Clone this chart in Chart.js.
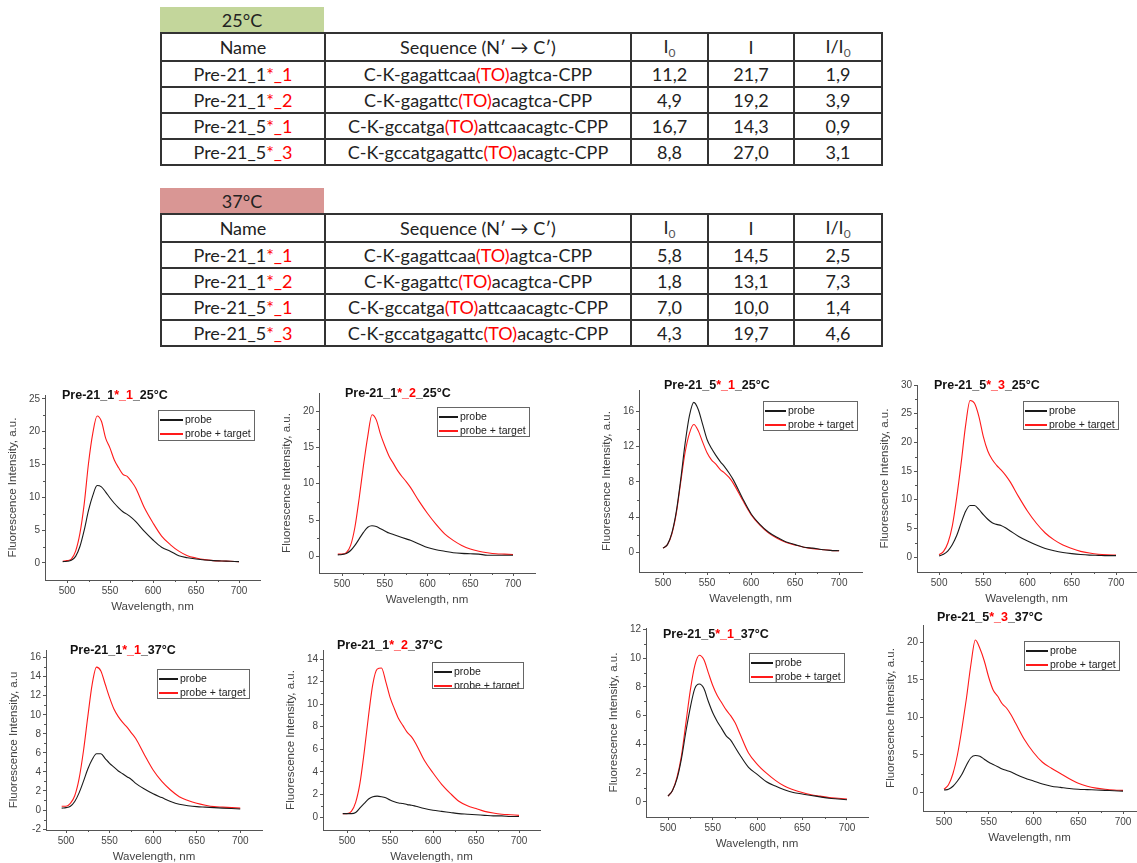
<!DOCTYPE html>
<html>
<head>
<meta charset="utf-8">
<script src="https://cdn.jsdelivr.net/npm/chart.js@4.4.0/dist/chart.umd.min.js"></script>
<style>
html, body { margin: 0; padding: 0; background: #fff; overflow: hidden; }
body { width: 1137px; height: 863px; position: relative; font-family: Lato, "Open Sans", sans-serif; color: #222; }
.tlabel { position: absolute; left: 160px; width: 164px; height: 25px; line-height: 27px; text-align: center; font-size: 18px; }
table.res { position: absolute; left: 160px; width: 721px; border-collapse: collapse; table-layout: fixed; font-size: 18px; }
table.res td { border: 2px solid #333; text-align: center; padding: 0; white-space: nowrap; }
table.res tr.head td { height: 26px; }
table.res tr td { height: 24px; }
.red { color: #f00; }
.sub { font-size: 12px; vertical-align: -4px; color: #555; }
.panel { position: absolute; }
.ttl { position: absolute; font: bold 12.5px "Liberation Sans", Arial, sans-serif; color: #111; white-space: nowrap; line-height: 14px; margin-top: -7px; }
.lg { position: absolute; border: 1px solid #666; box-sizing: border-box; font: 10.5px "Liberation Sans", Arial, sans-serif; color: #222; padding-top: 1px; background: #fff; overflow: hidden; }
.lg div { height: 14px; line-height: 14px; white-space: nowrap; }
.lg .ln { display: inline-block; height: 2px; vertical-align: middle; margin: 0 2px 0 1px; }
</style>
</head>
<body>
<div class="tlabel" style="top:7px;background:#c3d69b;">25°C</div>
<table class="res" id="tab25" style="top:32px;"></table>
<div class="tlabel" style="top:188px;background:#d99694;">37°C</div>
<table class="res" id="tab37" style="top:213px;"></table>
<div id="panels"></div>

<script>
// ----------------------------
// Table data
// ----------------------------
var rowBase = ['Pre-21_1', 'Pre-21_1', 'Pre-21_5', 'Pre-21_5'];
var rowMark = ['*_1', '*_2', '*_1', '*_3'];
var seqBefore = ['C-K-gagattcaa', 'C-K-gagattc', 'C-K-gccatga', 'C-K-gccatgagattc'];
var seqAfter = ['agtca-CPP', 'acagtca-CPP', 'attcaacagtc-CPP', 'acagtc-CPP'];

var i0_25 = ['11,2', '4,9', '16,7', '8,8'];
var i_25 = ['21,7', '19,2', '14,3', '27,0'];
var ratio_25 = ['1,9', '3,9', '0,9', '3,1'];

var i0_37 = ['5,8', '1,8', '7,0', '4,3'];
var i_37 = ['14,5', '13,1', '10,0', '19,7'];
var ratio_37 = ['2,5', '7,3', '1,4', '4,6'];

// ----------------------------
// Spectra data (wavelength, nm / intensity, a.u.)
// ----------------------------
var WL_495 = [495, 500, 505, 510, 515, 520, 525, 530, 535, 540, 545, 550, 555, 560, 565, 570, 575, 580,
    590, 600, 610, 620, 630, 640, 650, 660, 670, 680, 690, 700];
var WL_500 = [500, 505, 510, 515, 520, 525, 530, 535, 540, 545, 550, 555, 560, 565, 570, 575, 580,
    590, 600, 610, 620, 630, 640, 650, 660, 670, 680, 690, 700];

var probe_1_1_25 = [0.2, 0.25, 0.4, 1.0, 2.5, 5.0, 8.0, 10.3, 11.8, 11.6, 10.8, 9.9, 9.1, 8.4, 7.8, 7.4, 6.9, 6.3,
    4.8, 3.5, 2.4, 1.8, 1.1, 0.8, 0.6, 0.45, 0.35, 0.3, 0.25, 0.2];
var target_1_1_25 = [0.25, 0.35, 0.6, 1.8, 4.5, 9.0, 15.2, 19.8, 22.4, 21.6, 19.0, 17.5, 15.7, 14.5, 13.5, 13.2, 12.4, 11.4,
    8.4, 6.1, 4.1, 2.8, 1.8, 1.1, 0.75, 0.5, 0.35, 0.3, 0.25, 0.2];

var probe_1_2_25 = [0.2, 0.25, 0.4, 0.8, 1.5, 2.4, 3.3, 4.0, 4.2, 4.1, 3.8, 3.5, 3.2, 3.0, 2.8, 2.6, 2.4, 2.2,
    1.7, 1.2, 0.9, 0.7, 0.5, 0.4, 0.35, 0.3, 0.15, 0.15, 0.15, 0.15];
var target_1_2_25 = [0.3, 0.3, 0.5, 1.5, 4.0, 8.0, 12.5, 16.5, 19.5, 18.8, 16.8, 15.2, 13.8, 12.8, 11.8, 11.0, 10.3, 9.5,
    7.6, 5.9, 4.4, 3.1, 2.2, 1.5, 1.0, 0.7, 0.5, 0.35, 0.3, 0.25];

var probe_5_1_25 = [0.5, 0.9, 2.2, 4.6, 8.2, 12.3, 15.5, 17.0, 16.2, 14.5, 12.8, 11.8, 11.0, 10.3, 9.7, 9.0, 8.2,
    6.2, 4.4, 3.2, 2.3, 1.7, 1.2, 0.9, 0.6, 0.5, 0.35, 0.25, 0.2];
var target_5_1_25 = [0.5, 0.9, 2.1, 4.4, 7.9, 11.3, 13.5, 14.5, 13.8, 12.5, 11.3, 10.5, 10.0, 9.4, 9.0, 8.5, 7.8,
    6.0, 4.3, 3.1, 2.2, 1.6, 1.15, 0.85, 0.6, 0.45, 0.35, 0.25, 0.2];

var probe_5_3_25 = [0.2, 0.5, 1.1, 2.2, 3.8, 6.0, 8.0, 9.0, 9.0, 8.3, 7.4, 6.6, 6.0, 5.7, 5.5, 5.1, 4.6,
    3.6, 2.8, 2.1, 1.5, 1.1, 0.8, 0.6, 0.45, 0.35, 0.3, 0.25, 0.25];
var target_5_3_25 = [0.4, 1.0, 2.5, 5.5, 10.5, 16.5, 23.0, 27.3, 26.8, 24.5, 21.0, 18.5, 17.0, 16.0, 15.2, 14.3, 13.2,
    10.5, 8.0, 5.9, 4.2, 3.0, 2.1, 1.5, 1.0, 0.7, 0.5, 0.4, 0.35];

var probe_1_1_37 = [0.2, 0.25, 0.4, 0.9, 1.8, 3.0, 4.3, 5.3, 5.9, 5.9, 5.4, 4.9, 4.5, 4.1, 3.8, 3.5, 3.2, 2.8,
    2.2, 1.7, 1.3, 0.9, 0.6, 0.45, 0.35, 0.3, 0.25, 0.2, 0.15, 0.1];
var target_1_1_37 = [0.4, 0.4, 0.7, 1.5, 3.3, 6.2, 9.8, 13.2, 15.0, 14.6, 13.2, 11.8, 10.6, 9.8, 9.2, 8.7, 8.1, 7.5,
    5.8, 4.2, 3.0, 2.1, 1.4, 1.0, 0.7, 0.5, 0.35, 0.3, 0.25, 0.2];

var probe_1_2_37 = [0.3, 0.3, 0.3, 0.4, 0.8, 1.2, 1.6, 1.8, 1.85, 1.8, 1.7, 1.5, 1.35, 1.25, 1.2, 1.1, 1.05, 0.95,
    0.75, 0.6, 0.5, 0.4, 0.3, 0.25, 0.2, 0.15, 0.1, 0.1, 0.05, 0.05];
var target_1_2_37 = [0.3, 0.3, 0.5, 1.3, 3.0, 5.8, 9.0, 11.8, 13.1, 13.2, 12.0, 10.6, 9.6, 8.7, 8.1, 7.5, 7.1, 6.5,
    5.0, 3.9, 2.9, 2.1, 1.4, 1.0, 0.75, 0.5, 0.35, 0.25, 0.2, 0.15];

var probe_5_1_37 = [0.4, 0.8, 1.6, 3.0, 4.9, 6.6, 7.9, 8.2, 7.9, 7.0, 6.2, 5.6, 5.1, 4.6, 4.3, 3.8, 3.3,
    2.4, 1.9, 1.4, 1.1, 0.85, 0.65, 0.55, 0.45, 0.35, 0.25, 0.2, 0.15];
var target_5_1_37 = [0.4, 0.8, 1.7, 3.2, 5.5, 7.8, 9.5, 10.2, 9.9, 9.0, 8.1, 7.4, 6.9, 6.4, 6.0, 5.5, 4.8,
    3.4, 2.6, 2.0, 1.5, 1.1, 0.85, 0.65, 0.5, 0.4, 0.3, 0.25, 0.2];

var probe_5_3_37 = [0.3, 0.4, 0.8, 1.5, 2.4, 3.6, 4.6, 4.9, 4.8, 4.4, 4.0, 3.7, 3.4, 3.1, 2.9, 2.7, 2.4,
    1.9, 1.5, 1.1, 0.8, 0.65, 0.5, 0.4, 0.35, 0.3, 0.25, 0.2, 0.15];
var target_5_3_37 = [0.4, 1.0, 2.5, 5.0, 8.5, 12.5, 17.0, 20.3, 19.2, 17.5, 15.3, 13.6, 12.8, 11.8, 11.2, 10.3, 9.2,
    7.0, 5.3, 4.0, 3.2, 2.5, 1.8, 1.2, 0.8, 0.55, 0.4, 0.3, 0.25];

// tick labels
var X_TICKS = [500, 550, 600, 650, 700];
var Y_TICKS_25 = [0, 5, 10, 15, 20, 25];
var Y_TICKS_20 = [0, 5, 10, 15, 20];
var Y_TICKS_16 = [0, 4, 8, 12, 16];
var Y_TICKS_30 = [0, 5, 10, 15, 20, 25, 30];
var Y_TICKS_M2_16 = [-2, 0, 2, 4, 6, 8, 10, 12, 14, 16];
var Y_TICKS_14 = [0, 2, 4, 6, 8, 10, 12, 14];
var Y_TICKS_12 = [0, 2, 4, 6, 8, 10, 12];

var SERIES_LABELS = ['probe', 'probe + target'];
var SERIES_COLORS = ['#1a1a1a', '#ff1a1a'];

// ----------------------------
// Tables
// ----------------------------
function buildTable(id, i0, iv, ratio) {
    var html = '<colgroup><col style="width:164px"><col style="width:306px"><col style="width:77px">' +
        '<col style="width:86px"><col style="width:88px"></colgroup>';
    html += '<tr class="head"><td>Name</td><td>Sequence (N′ → C′)</td><td>I<span class="sub">0</span></td>' +
        '<td>I</td><td>I/I<span class="sub">0</span></td></tr>';
    for (var i = 0; i < rowBase.length; i++) {
        html += '<tr><td>' + rowBase[i] + '<span class="red">' + rowMark[i] + '</span></td>';
        html += '<td>' + seqBefore[i] + '<span class="red">(TO)</span>' + seqAfter[i] + '</td>';
        html += '<td>' + i0[i] + '</td><td>' + iv[i] + '</td><td>' + ratio[i] + '</td></tr>';
    }
    document.getElementById(id).innerHTML = html;
}
buildTable('tab25', i0_25, i_25, ratio_25);
buildTable('tab37', i0_37, i_37, ratio_37);

// ----------------------------
// Spectra panels
// ----------------------------
var Y_W = 41, X_H = 37, PAD_T = 9, PAD_R = 4;

var panels = [
    { base: 'Pre-21_1', mark: '*_1', temp: '25°C', wl: WL_495, probe: probe_1_1_25, target: target_1_1_25,
      yTicks: Y_TICKS_25, yMin: -2.6, yMax: 25.6, xMin: 474.4, xMax: 724.4, yLabel: 'Fluorescence Intensity, a.u.',
      axisX: 45, plotTop: 395, axisY: 580, plotRight: 260, title: [62, 395], legend: [158, 410, 97, 31] },
    { base: 'Pre-21_1', mark: '*_2', temp: '25°C', wl: WL_495, probe: probe_1_2_25, target: target_1_2_25,
      yTicks: Y_TICKS_20, yMin: -2.3, yMax: 22.5, xMin: 473, xMax: 725.7, yLabel: 'Fluorescence Intensity, a.u.',
      axisX: 319, plotTop: 393, axisY: 573, plotRight: 535, title: [345, 393], legend: [437, 407, 93, 30] },
    { base: 'Pre-21_5', mark: '*_1', temp: '25°C', wl: WL_500, probe: probe_5_1_25, target: target_5_1_25,
      yTicks: Y_TICKS_16, yMin: -2.2, yMax: 18.4, xMin: 472.7, xMax: 726, yLabel: 'Fluorescence Intensity, a.u.',
      axisX: 639, plotTop: 390, axisY: 572, plotRight: 862, title: [664, 385], legend: [763, 401, 95, 30] },
    { base: 'Pre-21_5', mark: '*_3', temp: '25°C', wl: WL_500, probe: probe_5_3_25, target: target_5_3_25,
      yTicks: Y_TICKS_30, yMin: -2.6, yMax: 30, xMin: 475, xMax: 722.6, yLabel: 'Fluorescence Intensity, a.u.',
      axisX: 917, plotTop: 385, axisY: 572, plotRight: 1136, title: [934, 385], legend: [1023, 401, 96, 29] },
    { base: 'Pre-21_1', mark: '*_1', temp: '37°C', wl: WL_495, probe: probe_1_1_37, target: target_1_1_37,
      yTicks: Y_TICKS_M2_16, yMin: -2.1, yMax: 16.8, xMin: 477, xMax: 725, yLabel: 'Fluorescence Intensity, a.u',
      axisX: 46, plotTop: 650, axisY: 830, plotRight: 262, title: [70, 650], legend: [157, 669, 93, 30] },
    { base: 'Pre-21_1', mark: '*_2', temp: '37°C', wl: WL_495, probe: probe_1_2_37, target: target_1_2_37,
      yTicks: Y_TICKS_14, yMin: -1.15, yMax: 14.8, xMin: 472, xMax: 724.4, yLabel: 'Fluorescence Intensity, a.u.',
      axisX: 323, plotTop: 650, axisY: 830, plotRight: 540, title: [337, 645], legend: [432, 662, 92, 27] },
    { base: 'Pre-21_5', mark: '*_1', temp: '37°C', wl: WL_500, probe: probe_5_1_37, target: target_5_1_37,
      yTicks: Y_TICKS_12, yMin: -1.05, yMax: 12.1, xMin: 475.4, xMax: 723.5, yLabel: 'Fluorescence Intensity, a.u.',
      axisX: 646, plotTop: 628, axisY: 817, plotRight: 868, title: [663, 634], legend: [749, 653, 96, 30] },
    { base: 'Pre-21_5', mark: '*_3', temp: '37°C', wl: WL_500, probe: probe_5_3_37, target: target_5_3_37,
      yTicks: Y_TICKS_20, yMin: -2.5, yMax: 22.3, xMin: 476.5, xMax: 714.5, yLabel: 'Fluorescence Intensity, a.u.',
      axisX: 923, plotTop: 625, axisY: 811, plotRight: 1136, title: [937, 617], legend: [1024, 641, 96, 30] }
];

function toPoints(xs, ys) {
    return xs.map(function (x, i) { return { x: x, y: ys[i] }; });
}

// small minor ticks between the major ones, Origin style
var minorTicks = {
    id: 'minorTicks',
    afterDraw: function (chart) {
        var ctx = chart.ctx;
        ctx.save();
        ctx.strokeStyle = '#555';
        ctx.lineWidth = 1;
        ['x', 'y'].forEach(function (id) {
            var s = chart.scales[id];
            var t = s.ticks;
            for (var i = 0; i < t.length - 1; i++) {
                var mid = (t[i].value + t[i + 1].value) / 2;
                var p = Math.round(s.getPixelForValue(mid)) + 0.5;
                ctx.beginPath();
                if (id === 'x') {
                    ctx.moveTo(p, chart.chartArea.bottom);
                    ctx.lineTo(p, chart.chartArea.bottom + 2);
                } else {
                    ctx.moveTo(chart.chartArea.left, p);
                    ctx.lineTo(chart.chartArea.left - 2, p);
                }
                ctx.stroke();
            }
        });
        ctx.restore();
    }
};

function axisOpts(min, max, ticks, size, title) {
    return {
        type: 'linear',
        min: min,
        max: max,
        afterBuildTicks: function (s) { s.ticks = ticks.map(function (v) { return { value: v }; }); },
        afterFit: function (s) { if (s.isHorizontal()) s.height = size; else s.width = size; },
        grid: { drawOnChartArea: false, tickLength: 3, color: '#555' },
        border: { color: '#555', width: 1 },
        ticks: { font: { family: 'Liberation Sans', size: 10 }, color: '#444', padding: 2, maxRotation: 0 },
        title: { display: true, text: title, color: '#444', font: { family: 'Liberation Sans', size: 11.5 },
                 padding: { top: 2, bottom: 3 } }
    };
}

function makePanel(p) {
    var left = p.axisX - Y_W;
    var top = p.plotTop - PAD_T;
    var right = Math.min(p.plotRight + PAD_R, 1137);
    var bottom = p.axisY + X_H;

    var wrap = document.createElement('div');
    wrap.className = 'panel';
    wrap.style.left = left + 'px';
    wrap.style.top = top + 'px';
    var canvas = document.createElement('canvas');
    canvas.width = right - left;
    canvas.height = bottom - top;
    canvas.style.width = (right - left) + 'px';
    canvas.style.height = (bottom - top) + 'px';
    wrap.appendChild(canvas);
    document.getElementById('panels').appendChild(wrap);

    new Chart(canvas.getContext('2d'), {
        type: 'line',
        data: {
            datasets: [p.probe, p.target].map(function (vals, k) {
                return {
                    label: SERIES_LABELS[k],
                    data: toPoints(p.wl, vals),
                    borderColor: SERIES_COLORS[k],
                    borderWidth: 1.1,
                    pointRadius: 0,
                    cubicInterpolationMode: 'monotone',
                    fill: false
                };
            })
        },
        options: {
            responsive: false,
            animation: false,
            layout: { padding: { top: PAD_T, right: right - p.plotRight, left: 0, bottom: 0 } },
            plugins: { legend: { display: false }, title: { display: false }, tooltip: { enabled: false } },
            scales: {
                x: axisOpts(p.xMin, p.xMax, X_TICKS, X_H, 'Wavelength, nm'),
                y: axisOpts(p.yMin, p.yMax, p.yTicks, Y_W, p.yLabel)
            }
        },
        plugins: [minorTicks]
    });

    // title with the red modification mark
    var t = document.createElement('div');
    t.className = 'ttl';
    t.style.left = p.title[0] + 'px';
    t.style.top = p.title[1] + 'px';
    t.innerHTML = p.base + '<span class="red">' + p.mark + '</span>_' + p.temp;
    document.body.appendChild(t);

    // framed legend inside the plot; the line sample fills what the text leaves
    var lg = document.createElement('div');
    lg.className = 'lg';
    lg.style.left = p.legend[0] + 'px';
    lg.style.top = p.legend[1] + 'px';
    lg.style.width = p.legend[2] + 'px';
    lg.style.height = p.legend[3] + 'px';
    var sample = Math.max(p.legend[2] - 74, 16);
    var html = '';
    SERIES_LABELS.forEach(function (lab, k) {
        html += '<div><span class="ln" style="width:' + sample + 'px;background:' + SERIES_COLORS[k] +
            '"></span>' + lab + '</div>';
    });
    lg.innerHTML = html;
    document.body.appendChild(lg);
}

panels.forEach(makePanel);
</script>
</body>
</html>
